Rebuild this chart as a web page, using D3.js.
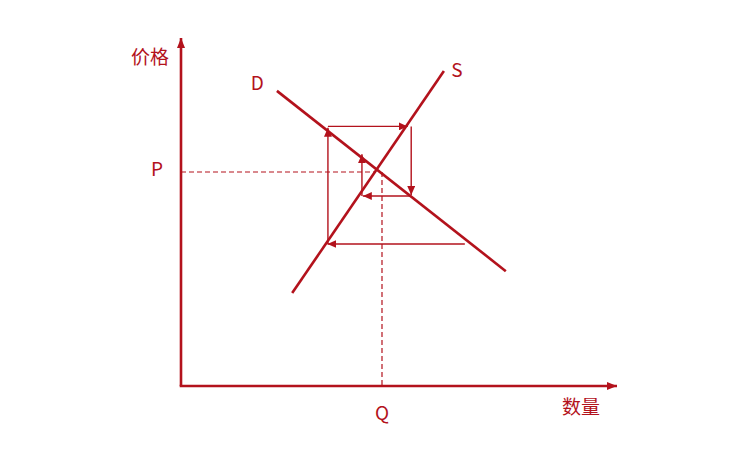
<!DOCTYPE html>
<html><head><meta charset="utf-8">
<script src="https://cdn.jsdelivr.net/npm/d3@7"></script>
<style>body{margin:0;background:#fff}svg{display:block}</style>
</head><body>
<svg id="c" width="750" height="450"></svg>
<script>
// Data (abstract units: quantity 0-100, price 0-100)
const demandLine = [[22.0, 84.8], [74.5, 33.0]];
const supplyLine = [[25.5, 26.7], [60.3, 90.5]];
const equilibrium = {q: 46.1, p: 61.5};
// cobweb path segments (each drawn with arrow at its end)
const cobweb = [
  [[65.1, 40.8], [33.6, 40.8]],
  [[33.7, 40.8], [33.7, 74.2]],
  [[33.7, 74.6], [52.0, 74.6]],
  [[52.8, 74.6], [52.8, 54.9]],
  [[52.8, 54.6], [41.7, 54.6]],
  [[41.5, 54.6], [41.5, 66.6]]
];
const axisLabels = {x: "数量", y: "价格"};
const curveLabels = [{t: "D", q: 17.5, p: 87.6}, {t: "S", q: 63.3, p: 91.1}];
const eqLabels = {p: "P", q: "Q"};

const col = "#b3121c";
const svg = d3.select("#c");
const x = d3.scaleLinear().domain([0, 100]).range([181, 617]);
const y = d3.scaleLinear().domain([0, 100]).range([386, 38]);

const defs = svg.append("defs");
function marker(id, w, h) {
  defs.append("marker").attr("id", id).attr("markerUnits", "userSpaceOnUse")
    .attr("viewBox", `0 ${-h/2} ${w} ${h}`).attr("refX", w).attr("refY", 0)
    .attr("markerWidth", w).attr("markerHeight", h).attr("orient", "auto")
    .append("path").attr("d", `M0,${-h/2}L${w},0L0,${h/2}Z`).attr("fill", col);
}
marker("ax", 10, 8);
marker("ar", 9, 8);

// dashed guides
svg.append("line").attr("x1", x(0)).attr("y1", y(equilibrium.p)).attr("x2", x(equilibrium.q) - 6).attr("y2", y(equilibrium.p))
  .attr("stroke", col).attr("stroke-width", 1.2).attr("stroke-dasharray", "5,3");
svg.append("line").attr("x1", x(equilibrium.q)).attr("y1", y(equilibrium.p)).attr("x2", x(equilibrium.q)).attr("y2", y(0))
  .attr("stroke", col).attr("stroke-width", 1.2).attr("stroke-dasharray", "5,3");

// cobweb
cobweb.forEach(s => {
  svg.append("line").attr("x1", x(s[0][0])).attr("y1", y(s[0][1])).attr("x2", x(s[1][0])).attr("y2", y(s[1][1]))
    .attr("stroke", col).attr("stroke-width", 1.4).attr("marker-end", "url(#ar)");
});

// D & S lines
const line = d3.line().x(d => x(d[0])).y(d => y(d[1]));
[demandLine, supplyLine].forEach(l => {
  svg.append("path").attr("d", line(l)).attr("fill", "none").attr("stroke", col).attr("stroke-width", 2.6);
});

// axes
svg.append("line").attr("x1", x(0)).attr("y1", y(0)).attr("x2", x(0)).attr("y2", y(100))
  .attr("stroke", col).attr("stroke-width", 2.6).attr("marker-end", "url(#ax)");
svg.append("line").attr("x1", x(0) - 1.3).attr("y1", y(0)).attr("x2", x(100)).attr("y2", y(0))
  .attr("stroke", col).attr("stroke-width", 2.6).attr("marker-end", "url(#ax)");

const font = "'Noto Sans CJK SC', 'Noto Sans', sans-serif";
function txt(t, px, py, size, anchor) {
  svg.append("text").attr("x", px).attr("y", py).attr("text-anchor", anchor || "middle")
    .attr("dominant-baseline", "central").attr("fill", col).attr("font-family", font)
    .attr("font-size", size).text(t);
}
txt(axisLabels.y, x(0) - 31, 55, 19);
txt(axisLabels.x, x(0) + 400, 405, 19);
curveLabels.forEach(c => txt(c.t, x(c.q), y(c.p), 19));
txt(eqLabels.p, 157, y(equilibrium.p) - 4, 19);
txt(eqLabels.q, x(equilibrium.q), 411, 19);
</script>
</body></html>
